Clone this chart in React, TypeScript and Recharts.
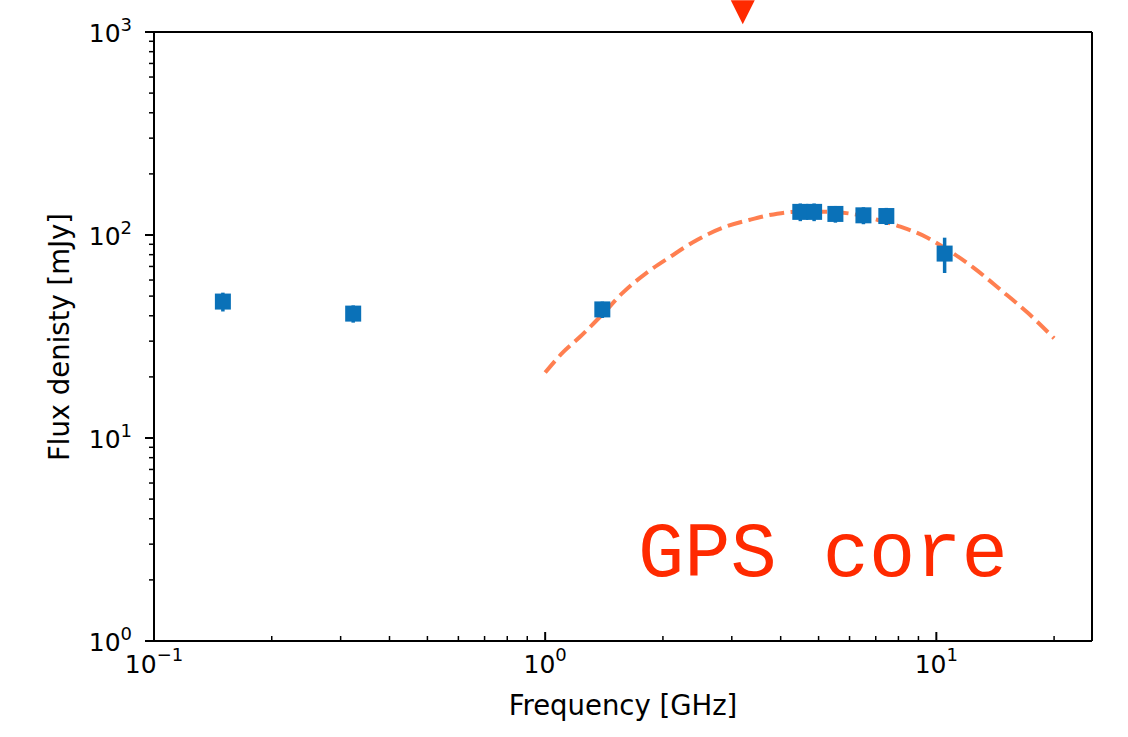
import { ComposedChart, Line, Scatter, ErrorBar, XAxis, YAxis, ReferenceLine, ReferenceDot } from 'recharts'

// measured spectrum
const freqGHz = [0.15, 0.323, 1.4, 4.49, 4.87, 5.52, 6.51, 7.45, 10.5]
const fluxMJy = [47, 41, 43, 130, 130, 127, 125, 124, 81]
const fluxErr = [5, 4, 4, 13, 13, 12, 12, 12, 16]

// GPS fit curve
const fitFreq = [1.0, 1.11, 1.23, 1.4, 1.58, 1.82, 2.09, 2.45, 2.85, 3.34, 3.92, 4.41, 5.14, 6.03, 7.06, 8.09, 9.49, 10.67, 12.44, 14.58, 17.1, 20]
const fitFlux = [21.0, 26.4, 31.6, 40.6, 52.0, 65.3, 78.2, 94.8, 108.7, 118.9, 127.4, 130.3, 130.3, 127.4, 118.9, 110, 97.0, 84.7, 69.1, 53.8, 41.5, 31]

// red marker above the axes
const markerFreq = 3.2
const markerFlux = 1250

const xMajor = [0.1, 1, 10]
const xMajorExp = ['\u22121', '0', '1']
const xMinor = [0.2, 0.3, 0.4, 0.5, 0.6, 0.7, 0.8, 0.9, 2, 3, 4, 5, 6, 7, 8, 9, 20]
const yMajor = [1, 10, 100, 1000]
const yMajorExp = ['0', '1', '2', '3']
const yMinor = [2, 3, 4, 5, 6, 7, 8, 9, 20, 30, 40, 50, 60, 70, 80, 90, 200, 300, 400, 500, 600, 700, 800, 900]

const points = freqGHz.map((f, i) => ({ f, s: fluxMJy[i], err: fluxErr[i] }))
const fit = fitFreq.map((f, i) => ({ f, s: fitFlux[i] }))

const BLUE = '#0a71b8'
const FONT = 'DejaVu Sans'

function XTick({ x, y, payload }: any) {
  const i = xMajor.indexOf(payload.value)
  const major = i >= 0
  return (
    <g>
      <line x1={x} x2={x} y1={y} y2={y - (major ? 9 : 5)} stroke="#000" strokeWidth={major ? 2 : 1.5} />
      {major && (
        <text x={x} y={y + 32} textAnchor="middle" fontFamily={FONT} fontSize={25} fill="#000">
          10<tspan dy={-12} fontSize={18}>{xMajorExp[i]}</tspan>
        </text>
      )}
    </g>
  )
}

function YTick({ x, y, payload }: any) {
  const i = yMajor.indexOf(payload.value)
  const major = i >= 0
  return (
    <g>
      <line x1={x} x2={x - (major ? 9 : 5)} y1={y} y2={y} stroke="#000" strokeWidth={major ? 2 : 1.5} />
      {major && (
        <text x={x - 22} y={y + 10} textAnchor="end" fontFamily={FONT} fontSize={25} fill="#000">
          10<tspan dy={-11} fontSize={18}>{yMajorExp[i]}</tspan>
        </text>
      )}
    </g>
  )
}

const square = (p: any) => <rect x={p.cx - 8} y={p.cy - 8} width={16} height={16} fill={BLUE} />

const triangle = (p: any) => (
  <polygon points={`${p.cx - 12},${p.cy - 12} ${p.cx + 12},${p.cy - 12} ${p.cx},${p.cy + 12}`} fill="#ff2a00" />
)

export default function App() {
  return (
    <div style={{ position: 'absolute', left: 0, top: 0, width: 1128, height: 737, background: '#fff' }}>
      <ComposedChart width={1128} height={737} margin={{ top: 32, right: 36, bottom: 0, left: 0 }}>
        <XAxis
          dataKey="f"
          type="number"
          scale="log"
          domain={[0.1, 25]}
          allowDataOverflow
          ticks={[...xMajor, ...xMinor]}
          interval={0}
          height={96}
          tickSize={0}
          tickMargin={0}
          tickLine={false}
          axisLine={{ stroke: '#000', strokeWidth: 2 }}
          tick={<XTick />}
        />
        <YAxis
          dataKey="s"
          type="number"
          scale="log"
          domain={[1, 1000]}
          allowDataOverflow
          ticks={[...yMajor, ...yMinor]}
          interval={0}
          width={154}
          tickSize={0}
          tickMargin={0}
          tickLine={false}
          axisLine={{ stroke: '#000', strokeWidth: 2 }}
          tick={<YTick />}
        />
        <ReferenceLine y={1000} stroke="#000" strokeWidth={2} />
        <ReferenceLine x={25} stroke="#000" strokeWidth={2} />
        <Line
          data={fit}
          dataKey="s"
          type="monotone"
          stroke="#ff7f50"
          strokeWidth={4}
          strokeDasharray="15 6.5"
          dot={false}
          activeDot={false}
          isAnimationActive={false}
        />
        <Scatter data={points} dataKey="s" fill={BLUE} shape={square} isAnimationActive={false}>
          <ErrorBar dataKey="err" direction="y" width={0} stroke={BLUE} strokeWidth={3.5} />
        </Scatter>
        <ReferenceDot x={markerFreq} y={markerFlux} ifOverflow="visible" shape={triangle} />
      </ComposedChart>
      <svg width={1128} height={737} style={{ position: 'absolute', left: 0, top: 0, pointerEvents: 'none' }}>
        <text x={623} y={715} textAnchor="middle" fontFamily={FONT} fontSize={27.5} fill="#000">
          Frequency [GHz]
        </text>
        <text x={69} y={337} textAnchor="middle" fontFamily={FONT} fontSize={27.5} fill="#000" transform="rotate(-90 69 337)">
          Flux denisty [mJy]
        </text>
        <text x={638} y={576} fontFamily="Liberation Mono" fontSize={77} fill="#ff2a00">
          GPS core
        </text>
      </svg>
    </div>
  )
}
